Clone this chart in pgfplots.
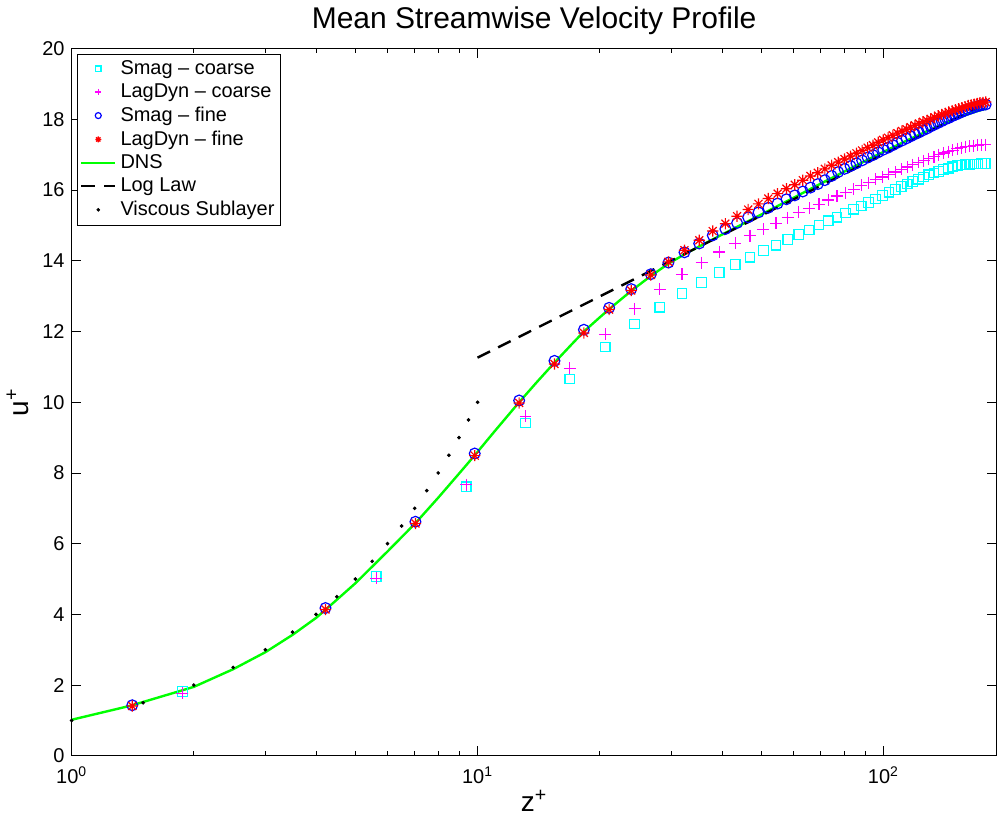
\documentclass[border=0pt]{standalone}
\usepackage{fontspec}
\setmainfont{Liberation Sans}
\usepackage{pgfplots}
\usepackage{pgfplotstable}
\pgfplotsset{compat=1.18}

\definecolor{mcyan}{rgb}{0,1,1}
\definecolor{mmagenta}{rgb}{1,0,1}
\definecolor{mblue}{rgb}{0,0,1}
\definecolor{mred}{rgb}{1,0,0}
\definecolor{mgreen}{rgb}{0,1,0}

% MATLAB-style '*' marker: plus and cross together
\pgfdeclareplotmark{mstar}{%
  \pgfpathmoveto{\pgfqpoint{-\pgfplotmarksize}{0pt}}\pgfpathlineto{\pgfqpoint{\pgfplotmarksize}{0pt}}%
  \pgfpathmoveto{\pgfqpoint{0pt}{-\pgfplotmarksize}}\pgfpathlineto{\pgfqpoint{0pt}{\pgfplotmarksize}}%
  \pgfpathmoveto{\pgfqpoint{-0.707\pgfplotmarksize}{-0.707\pgfplotmarksize}}\pgfpathlineto{\pgfqpoint{0.707\pgfplotmarksize}{0.707\pgfplotmarksize}}%
  \pgfpathmoveto{\pgfqpoint{-0.707\pgfplotmarksize}{0.707\pgfplotmarksize}}\pgfpathlineto{\pgfqpoint{0.707\pgfplotmarksize}{-0.707\pgfplotmarksize}}%
  \pgfusepathqstroke}

% coarse grid: 48 points
\pgfplotstableread{
z u
1.875 1.82
5.625 5.07
9.375 7.61
13.125 9.41
16.875 10.66
20.625 11.56
24.375 12.21
28.125 12.69
31.875 13.08
35.625 13.39
39.375 13.67
43.125 13.90
46.875 14.10
50.625 14.29
54.375 14.44
58.125 14.60
61.875 14.74
65.625 14.87
69.375 15.01
73.125 15.13
76.875 15.23
80.625 15.35
84.375 15.46
88.125 15.55
91.875 15.65
95.625 15.75
99.375 15.85
103.125 15.94
106.875 16.02
110.625 16.10
114.375 16.17
118.125 16.24
121.875 16.31
125.625 16.37
129.375 16.43
133.125 16.48
136.875 16.53
140.625 16.58
144.375 16.62
148.125 16.66
151.875 16.69
155.625 16.71
159.375 16.72
163.125 16.73
166.875 16.74
170.625 16.74
174.375 16.75
178.125 16.75
}\smagcoarse

\pgfplotstableread{
z u
1.875 1.77
5.625 5.02
9.375 7.67
13.125 9.60
16.875 10.96
20.625 11.92
24.375 12.64
28.125 13.19
31.875 13.62
35.625 13.95
39.375 14.25
43.125 14.49
46.875 14.71
50.625 14.89
54.375 15.06
58.125 15.22
61.875 15.37
65.625 15.48
69.375 15.60
73.125 15.72
76.875 15.83
80.625 15.93
84.375 16.02
88.125 16.13
91.875 16.21
95.625 16.30
99.375 16.37
103.125 16.45
106.875 16.51
110.625 16.59
114.375 16.65
118.125 16.72
121.875 16.78
125.625 16.83
129.375 16.89
133.125 16.94
136.875 17.00
140.625 17.05
144.375 17.09
148.125 17.13
151.875 17.17
155.625 17.20
159.375 17.23
163.125 17.24
166.875 17.26
170.625 17.27
174.375 17.28
178.125 17.28
}\lagcoarse

% fine grid: 64 points
\pgfplotstableread{
z u
1.41 1.43
4.22 4.18
7.03 6.62
9.84 8.55
12.66 10.05
15.47 11.17
18.28 12.05
21.09 12.67
23.91 13.20
26.72 13.62
29.53 13.95
32.34 14.24
35.16 14.49
37.97 14.72
40.78 14.90
43.59 15.07
46.41 15.23
49.22 15.37
52.03 15.50
54.84 15.62
57.66 15.74
60.47 15.85
63.28 15.96
66.09 16.07
68.91 16.17
71.72 16.28
74.53 16.40
77.34 16.51
80.16 16.60
82.97 16.68
85.78 16.76
88.59 16.84
91.41 16.92
94.22 16.99
97.03 17.07
99.84 17.14
102.66 17.20
105.47 17.27
108.28 17.34
111.09 17.40
113.91 17.46
116.72 17.52
119.53 17.58
122.34 17.63
125.16 17.69
127.97 17.74
130.78 17.80
133.59 17.85
136.41 17.90
139.22 17.95
142.03 18.00
144.84 18.04
147.66 18.09
150.47 18.13
153.28 18.17
156.09 18.21
158.91 18.25
161.72 18.28
164.53 18.31
167.34 18.34
170.16 18.37
172.97 18.39
175.78 18.41
178.59 18.42
}\smagfine

\pgfplotstableread{
z u
1.41 1.41
4.22 4.14
7.03 6.57
9.84 8.49
12.66 9.98
15.47 11.08
18.28 11.96
21.09 12.62
23.91 13.16
26.72 13.60
29.53 13.97
32.34 14.30
35.16 14.58
37.97 14.84
40.78 15.05
43.59 15.26
46.41 15.45
49.22 15.61
52.03 15.76
54.84 15.90
57.66 16.04
60.47 16.15
63.28 16.28
66.09 16.40
68.91 16.49
71.72 16.60
74.53 16.70
77.34 16.79
80.16 16.88
82.97 16.96
85.78 17.04
88.59 17.12
91.41 17.20
94.22 17.27
97.03 17.35
99.84 17.42
102.66 17.48
105.47 17.55
108.28 17.61
111.09 17.67
113.91 17.72
116.72 17.78
119.53 17.83
122.34 17.88
125.16 17.93
127.97 17.97
130.78 18.01
133.59 18.06
136.41 18.10
139.22 18.14
142.03 18.17
144.84 18.21
147.66 18.24
150.47 18.27
153.28 18.30
156.09 18.33
158.91 18.36
161.72 18.39
164.53 18.41
167.34 18.43
170.16 18.45
172.97 18.47
175.78 18.48
178.59 18.49
}\lagfine

\pgfplotstableread{
z u
1 1.02
1.4 1.42
2 1.95
2.5 2.45
3 2.93
3.5 3.42
4 3.90
4.22 4.13
5 4.88
6 5.78
7.03 6.58
8 7.30
9 7.98
9.84 8.50
11 9.17
12.66 10.00
14 10.57
15.47 11.12
17 11.62
18.28 12.00
20 12.40
21.09 12.63
23.91 13.15
26.72 13.57
29.53 13.92
33 14.24
40 14.74
50 15.31
60 15.78
70 16.18
80 16.52
90 16.82
100 17.08
115 17.42
130 17.70
145 17.94
160 18.13
170 18.23
178.6 18.30
}\dns

\pgfplotstableread{
z u
10 11.26
178.6 18.46
}\loglaw

\pgfplotstableread{
z u
1 1
1.5 1.5
2 2
2.5 2.5
3 3
3.5 3.5
4 4
4.5 4.5
5 5
5.5 5.5
6 6
6.5 6.5
7 7
7.5 7.5
8 8
8.5 8.5
9 9
9.5 9.5
10 10
}\visc

\begin{document}
\begin{tikzpicture}
\begin{axis}[
    scale only axis,
    width=463pt, height=354pt,
    xmode=log, xmin=1, xmax=190,
    ymin=0, ymax=20,
    ytick={0,2,...,20},
    xtick={1,10,100},
    xticklabels={10\textsuperscript{0},10\textsuperscript{1},10\textsuperscript{2}},
    minor xtick={2,3,4,5,6,7,8,9,20,30,40,50,60,70,80,90},
    major tick length=4.7pt, minor tick length=2.2pt,
    tick style={black, line width=0.4pt},
    /pgf/number format/assume math mode=true,
    tick label style={font=\fontsize{10}{12}\selectfont},
    xticklabel style={yshift=-2pt},
    title={Mean Streamwise Velocity Profile},
    title style={font=\fontsize{15}{18}\selectfont, yshift=-2.5pt},
    xlabel={z\textsuperscript{+}},
    ylabel={u\textsuperscript{+}},
    label style={font=\fontsize{14}{17}\selectfont},
    xlabel style={yshift=4pt},
    legend style={at={(0.006,0.993)}, anchor=north west, draw=black,
        font=\fontsize{10}{12}\selectfont, inner sep=1.2pt,
        row sep=-0.8pt},
    legend cell align=left,
]
\addplot[only marks, mark=square, mcyan, mark size=2.4pt, line width=0.6pt,
    legend image post style={mark size=1.4pt}] table[x=z, y=u] {\smagcoarse};
\addplot[only marks, mark=+, mmagenta, mark size=3pt, line width=0.6pt,
    legend image post style={mark size=1.6pt}] table[x=z, y=u] {\lagcoarse};
\addplot[only marks, mark=o, mblue, mark size=2.7pt, line width=0.6pt,
    legend image post style={mark size=1.5pt}] table[x=z, y=u] {\smagfine};
\addplot[only marks, mark=mstar, mred, mark size=2.8pt, line width=0.6pt,
    legend image post style={mark size=1.5pt}] table[x=z, y=u] {\lagfine};
\addplot[mgreen, line width=1.2pt, no marks] table[x=z, y=u] {\dns};
\addplot[black, line width=1.2pt, dash pattern=on 7pt off 4.5pt, no marks] table[x=z, y=u] {\loglaw};
\addplot[only marks, mark=*, black, mark size=0.7pt] table[x=z, y=u] {\visc};
\legend{Smag -- coarse, LagDyn -- coarse, Smag -- fine, LagDyn -- fine, DNS, Log Law, Viscous Sublayer}
\end{axis}
\path (current axis.outer south) ++(0,-4pt);
\end{tikzpicture}
\end{document}
